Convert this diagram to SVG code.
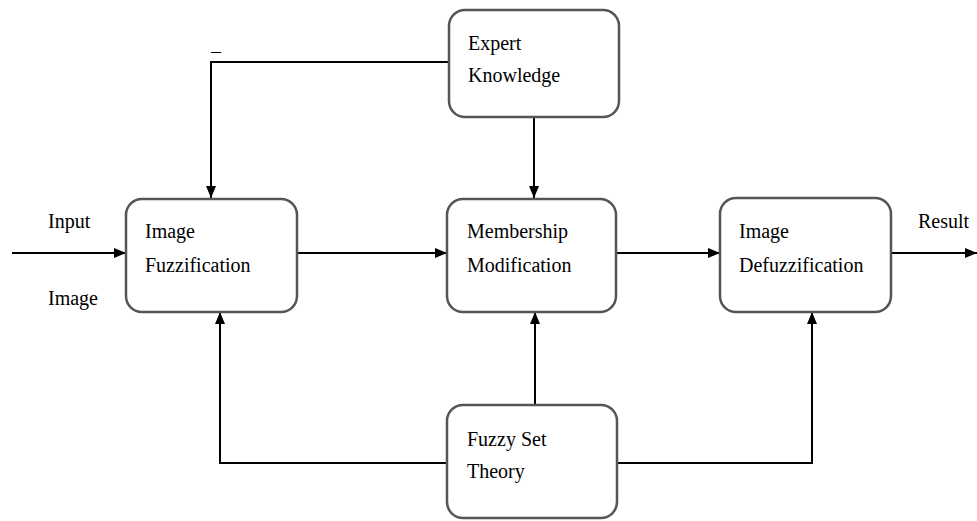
<svg xmlns="http://www.w3.org/2000/svg" width="977" height="521" viewBox="0 0 977 521">
<defs>
<style>
.box{fill:#fff;stroke:#555;stroke-width:2.5}
.ln{fill:none;stroke:#000;stroke-width:2}
</style>
<marker id="ah" viewBox="0 0 12 10" refX="12" refY="5" markerWidth="12" markerHeight="10" markerUnits="userSpaceOnUse" orient="auto">
<path d="M0,0 L12,5 L0,10 Z" fill="#000"/>
</marker>
</defs>
<rect width="977" height="521" fill="#fff"/>
<g font-family="Liberation Serif, Times New Roman, serif" font-size="20" fill="#000">
<g id="connectors">
<path class="ln" d="M12,253 H126" marker-end="url(#ah)"/>
<path class="ln" d="M297,253 H447" marker-end="url(#ah)"/>
<path class="ln" d="M616,253 H720" marker-end="url(#ah)"/>
<path class="ln" d="M891,253 H977" marker-end="url(#ah)"/>
<path class="ln" d="M449,62 H211 V198" marker-end="url(#ah)"/>
<path class="ln" d="M534,117 V198" marker-end="url(#ah)"/>
<path class="ln" d="M447,463 H220 V312" marker-end="url(#ah)"/>
<path class="ln" d="M535,405 V312" marker-end="url(#ah)"/>
<path class="ln" d="M617,463 H812 V312" marker-end="url(#ah)"/>
<text x="211" y="58">–</text>
<text x="48" y="228">Input</text>
<text x="48" y="305">Image</text>
<text x="918" y="228">Result</text>
</g>
<g id="expert">
<rect class="box" x="449" y="10" width="170" height="107" rx="16"/>
<text x="468" y="50">Expert</text>
<text x="468" y="82">Knowledge</text>
</g>
<g id="fuzzification">
<rect class="box" x="126" y="199" width="171" height="113" rx="16"/>
<text x="145" y="238">Image</text>
<text x="145" y="272">Fuzzification</text>
</g>
<g id="membership">
<rect class="box" x="447" y="199" width="169" height="113" rx="16"/>
<text x="467" y="238">Membership</text>
<text x="467" y="272">Modification</text>
</g>
<g id="defuzzification">
<rect class="box" x="720" y="198" width="171" height="114" rx="16"/>
<text x="739" y="238">Image</text>
<text x="739" y="272">Defuzzification</text>
</g>
<g id="fuzzyset">
<rect class="box" x="447" y="405" width="170" height="113" rx="16"/>
<text x="467" y="446">Fuzzy Set</text>
<text x="467" y="478">Theory</text>
</g>
</g>
</svg>
